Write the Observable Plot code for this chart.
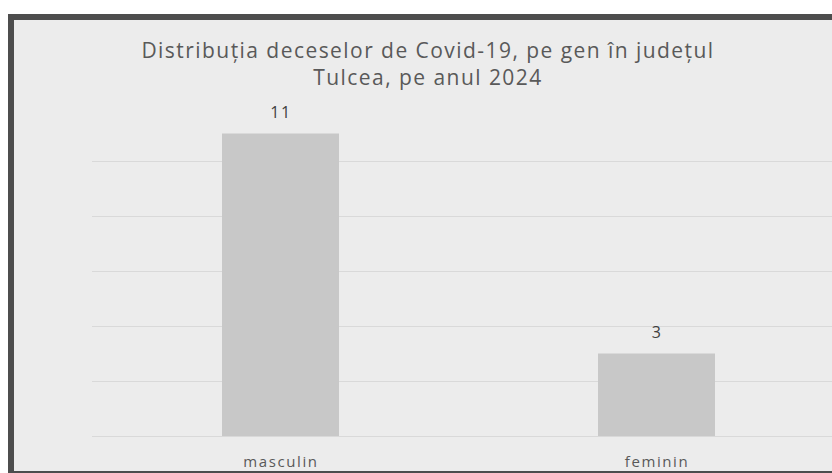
<!DOCTYPE html>
<html>
<head>
<meta charset="utf-8">
<script src="https://cdn.jsdelivr.net/npm/d3@7"></script>
<script src="https://cdn.jsdelivr.net/npm/@observablehq/plot@0.6"></script>
<style>
  html, body { margin: 0; padding: 0; background: #ffffff; width: 832px; height: 473px; overflow: hidden; }
  #frame {
    position: absolute; left: 8px; top: 14px;
    width: 900px; height: 451px;
    background: #ececec;
    border-left: 6px solid #4d4d4d;
    border-top: 6px solid #4d4d4d;
    border-bottom: 6px solid #4d4d4d;
    overflow: hidden;
  }
  #title {
    position: absolute; left: 0; top: 17px; width: 828px;
    text-align: center; font-family: "Open Sans", sans-serif;
    font-size: 21px; line-height: 27px; color: #595959; letter-spacing: 1.45px;
  }
  #chart { position: absolute; left: 0; top: 0; }
  #chart g[aria-label="x-axis tick label"] text { letter-spacing: 1.6px; }
  #chart g[aria-label="text"] text { letter-spacing: 1.5px; }
</style>
</head>
<body>
<div id="frame">
  <div id="chart"></div>
  <div id="title">Distribuția deceselor de Covid-19, pe gen în județul<br>Tulcea, pe anul 2024</div>
</div>
<script>
const categories = ["masculin", "feminin"];
const deaths = [11, 3];
const gridTicks = [0, 2, 4, 6, 8, 10];

const data = categories.map((c, i) => ({gen: c, value: deaths[i]}));

const chart = Plot.plot({
  width: 832,
  height: 451,
  marginLeft: 78,
  marginRight: 2,
  marginTop: 86,
  marginBottom: 35,
  style: { background: "transparent", fontFamily: "'Open Sans', sans-serif" },
  x: { domain: categories, paddingInner: 0.689, paddingOuter: 0.3445, align: 0.5 },
  y: { domain: [0, 12] },
  marks: [
    Plot.ruleY(gridTicks, { stroke: "#d9d9d9", strokeWidth: 1.2 }),
    Plot.barY(data, { x: "gen", y: "value", fill: "#c8c8c8" }),
    Plot.text(data, { x: "gen", y: "value", text: d => String(d.value), dy: -21, fill: "#404040", fontSize: 16, lineAnchor: "middle" }),
    Plot.axisX({ tickSize: 0, tickPadding: 20, fontSize: 15, color: "#595959", label: null }),
    Plot.axisY({ ticks: [], label: null })
  ]
});
document.getElementById("chart").appendChild(chart);
</script>
</body>
</html>
